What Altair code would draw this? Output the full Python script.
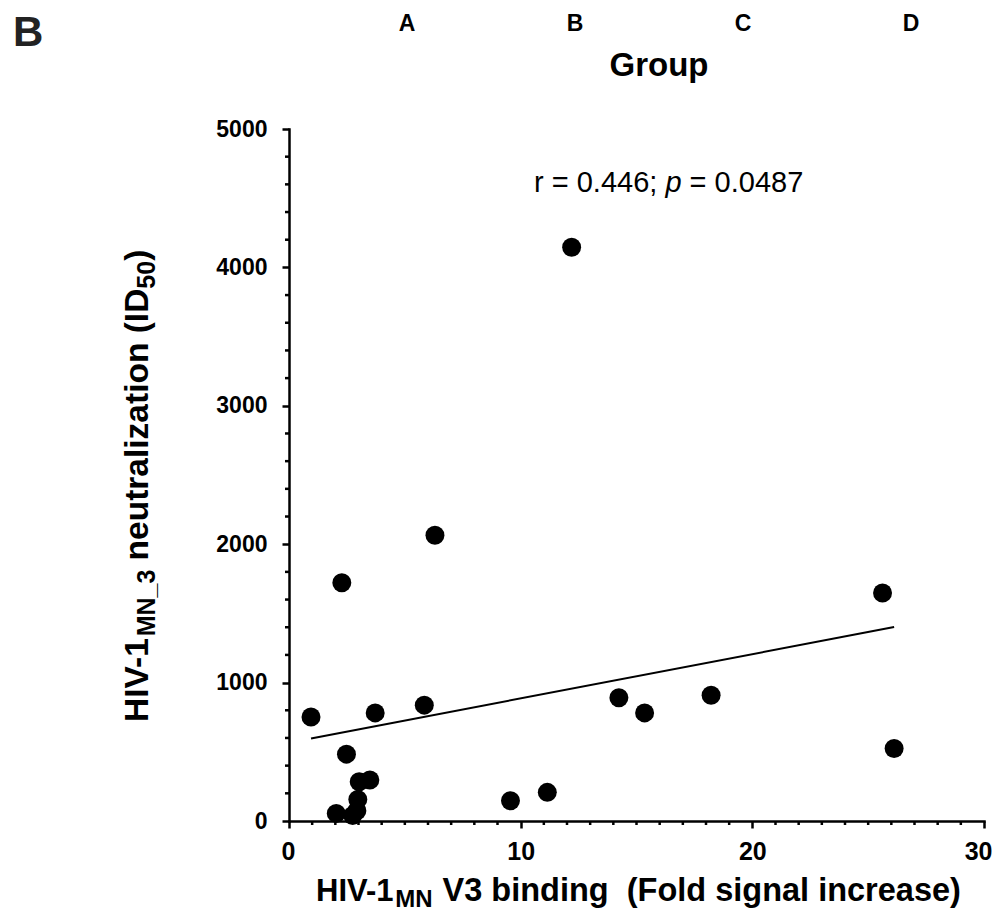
import altair as alt
import pandas as pd

# ---------------- data ----------------
binding = [0.95, 2.28, 2.48, 3.72, 5.84, 6.30, 12.20, 9.56, 11.15, 14.24,
           15.35, 18.22, 25.62, 26.12, 3.03, 3.49, 2.97, 2.93, 2.04, 2.75]
neutralization = [752, 1722, 483, 781, 837, 2065, 4145, 146, 207, 890,
                  781, 909, 1647, 524, 283, 296, 156, 74, 55, 40]
groups = ["A", "B", "C", "D"]
x_major = [0, 10, 20, 30]
y_major = [0, 1000, 2000, 3000, 4000, 5000]
x_minor = [1, 2, 3, 4, 5, 6, 7, 8, 9, 11, 12, 13, 14, 15, 16, 17, 18, 19,
           21, 22, 23, 24, 25, 26, 27, 28, 29]
y_minor = [200, 400, 600, 800, 1200, 1400, 1600, 1800, 2200, 2400, 2600, 2800,
           3200, 3400, 3600, 3800, 4200, 4400, 4600, 4800]
NB = "\u00a0"
# (text, leading spaces) pieces
annotation = [("r = 0.446;", 0), ("p", 1), ("= 0.0487", 1)]

df = pd.DataFrame({"binding": binding, "neut": neutralization})

# ---------------- layout ----------------
OX, OY = 289, 129          # plot origin in page pixels
W, H = 695, 692
FONT = "Liberation Sans"

BOLD = {' ': 278, NB: 278, '(': 333, ')': 333, '-': 333, '.': 278, ';': 333, '=': 584,
        '_': 556, 'A': 722, 'B': 722, 'C': 722, 'D': 722, 'F': 611, 'G': 778, 'H': 722,
        'I': 278, 'M': 833, 'N': 722, 'V': 667, 'a': 556, 'b': 611, 'c': 556, 'd': 611,
        'e': 556, 'g': 611, 'i': 278, 'l': 278, 'n': 611, 'o': 611, 'p': 611, 'r': 389,
        's': 556, 't': 333, 'u': 611, 'z': 500}
REG = {' ': 278, NB: 278, '.': 278, ';': 278, '=': 584, 'r': 333, 'p': 556}


def width(s, size, table):
    return sum(table.get(c, 556) for c in s) * size / 1000.0


def txt(s, px, py, size, weight="bold", style="normal", font=FONT, align="left",
        angle=0, baseline="alphabetic", color="black"):
    kw = dict(align=align, baseline=baseline, font=font, fontSize=size,
              fontWeight=weight, fontStyle=style, color=color)
    if angle:
        kw["angle"] = angle
    return alt.Chart(pd.DataFrame({"t": [s]})).mark_text(**kw).encode(
        text="t:N", x=alt.value(px - OX), y=alt.value(py - OY))


xs = alt.Scale(domain=[0, 30], nice=False, zero=False)
ys = alt.Scale(domain=[0, 5000], nice=False)

xa = alt.Axis(values=x_major, title=None, format="d", grid=False,
              labelFont=FONT, labelFontSize=25, labelFontWeight="bold", labelColor="black",
              labelPadding=11, labelFlush=True, labelFlushOffset=8, tickSize=7,
              tickWidth=2.5, tickColor="black",
              domainColor="black", domainWidth=2.5, domainCap="square")
ya = alt.Axis(values=y_major, title=None, format="d", grid=False,
              labelFont=FONT, labelFontSize=23, labelFontWeight="bold",
              labelColor="black", labelPadding=15, labelFlush=False, tickSize=7,
              tickWidth=2.5, tickColor="black", domainColor="black", domainWidth=2.5,
              domainCap="square")

X = alt.X("binding:Q", scale=xs, axis=xa)
Y = alt.Y("neut:Q", scale=ys, axis=ya)

minor_y = alt.Chart(pd.DataFrame({"v": y_minor})).mark_rule(
    color="black", strokeWidth=2.5).encode(
    y=alt.Y("v:Q", scale=ys, axis=ya), x=alt.value(-4), x2=alt.value(0))
minor_x = alt.Chart(pd.DataFrame({"v": x_minor})).mark_rule(
    color="black", strokeWidth=2.5).encode(
    x=alt.X("v:Q", scale=xs, axis=xa), y=alt.value(H), y2=alt.value(H + 4))

reg = alt.Chart(df).transform_regression("binding", "neut").mark_line(
    color="black", strokeWidth=2).encode(x=X, y=Y)
points = alt.Chart(df).mark_circle(size=360, color="black", opacity=1).encode(x=X, y=Y)

texts = []
# panel letter and group title
texts.append(txt("B", 13, 46, 42, color="#222222"))
texts.append(txt("Group", 659, 76, 33, align="center"))

# annotation (regular weight, italic p)
ax, ab, asz = 534, 192, 29
for s, lead in annotation:
    ax += lead * 0.278 * asz
    texts.append(txt(s, ax, ab, asz, weight="normal",
                     style="italic" if s == "p" else "normal"))
    ax += width(s, asz, REG)

# x title with subscript
xb = 901
x_pieces = [("HIV-1", 31, 0, 0), ("MN", 24, 6, 0),
            ("V3 binding" + NB + NB + "(Fold signal increase)", 32.5, 0, 1)]
cx = 316
for s, sz, off, lead in x_pieces:
    cx += lead * 0.278 * sz
    texts.append(txt(s, cx, xb + off, sz))
    cx += width(s, sz, BOLD) + (1 if sz == 24 else 0)

# y title (rotated) with subscripts
yb = 148
MS, SS = 33.5, 25
y_pieces = [("HIV-1", MS, 0, 0), ("MN_3", SS, 7, 0),
            ("neutralization" + NB + "(ID", MS, 0, 1), ("50", SS, 7, 0), (")", MS, 0, 0)]
cy = 722
for s, sz, off, lead in y_pieces:
    cy -= lead * 0.278 * sz
    texts.append(txt(s, yb + off, cy, sz, angle=270))
    cy -= width(s, sz, BOLD)

inner = alt.layer(minor_y, minor_x, reg, points, *texts)

group_chart = alt.Chart(pd.DataFrame({"g": groups})).mark_text(
    font=FONT, fontSize=23, fontWeight="bold", baseline="alphabetic", color="black").encode(
    x=alt.X("g:N", scale=alt.Scale(type="point", domain=groups, range=[118, 622], padding=0),
            axis=None),
    y=alt.value(31 - OY), text="g:N")

chart = alt.layer(inner, group_chart).resolve_scale(x="independent").properties(
    width=W, height=H,
    padding={"left": OX - 8, "top": OY - 8, "right": 10, "bottom": 90},
    autosize=alt.AutoSizeParams(type="none"),
    background="white",
).configure_view(stroke=None)

chart.save("out.html", embed_options={"renderer": "svg", "actions": False})
